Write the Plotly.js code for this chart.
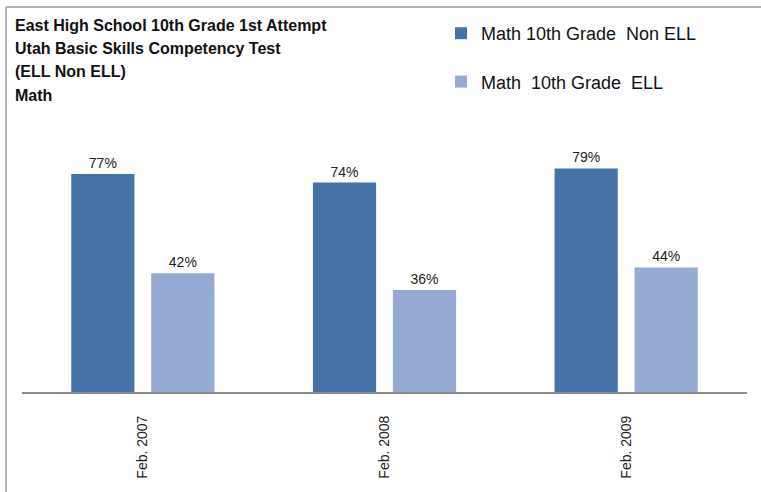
<!DOCTYPE html>
<html>
<head>
<meta charset="utf-8">
<script src="https://cdn.plot.ly/plotly-3.0.1.min.js"></script>
<style>
html,body{margin:0;padding:0;background:#fff;}
#chart{width:761px;height:492px;}
</style>
</head>
<body>
<div id="chart"></div>
<script>
const categories = ['Feb. 2007', 'Feb. 2008', 'Feb. 2009'];
const nonEllValues = [77, 74, 79];
const ellValues = [42, 36, 44];
const seriesNames = ['Math 10th Grade\u00A0 Non ELL', 'Math\u00A0 10th Grade\u00A0 ELL'];
const titleLines = [
  'East High School 10th Grade 1st Attempt',
  'Utah Basic Skills Competency Test',
  '(ELL Non ELL)',
  'Math'
];

const pct = v => v + '%';
const FONT = 'Liberation Sans, Arial, sans-serif';

const traces = [
  {
    type: 'bar', x: categories, y: nonEllValues, name: seriesNames[0],
    marker: {color: '#4573A7'},
    text: nonEllValues.map(pct), textposition: 'outside', cliponaxis: false,
    textfont: {family: FONT, size: 14, color: '#222'},
    legendgroup: 'a', hoverinfo: 'skip'
  },
  {
    type: 'bar', x: categories, y: ellValues, name: seriesNames[1],
    marker: {color: '#95AAD2'},
    text: ellValues.map(pct), textposition: 'outside', cliponaxis: false,
    textfont: {family: FONT, size: 14, color: '#222'},
    legendgroup: 'b', hoverinfo: 'skip'
  }
];

const L = 22, R = 14, T = 109, B = 100;
const W = 761 - L - R, H = 492 - T - B;
const px = x => (x - L) / W;
const py = y => 1 + (T - y) / H;

const titleY = [25, 48, 72, 96];
const annotations = titleLines.map((t, i) => ({
  text: t, xref: 'paper', yref: 'paper', x: px(13), y: py(titleY[i]),
  xanchor: 'left', yanchor: 'middle', showarrow: false,
  font: {family: FONT, size: 16, color: '#111', weight: 'bold'}
}));

const layout = {
  width: 761, height: 492,
  margin: {l: L, r: R, t: T, b: B, pad: 0},
  paper_bgcolor: '#fff', plot_bgcolor: '#fff',
  barmode: 'group', bargap: 0.338, bargroupgap: 0.21,
  showlegend: true,
  legend: {
    x: px(441), y: py(15), xanchor: 'left', yanchor: 'top',
    font: {family: FONT, size: 18, color: '#111'},
    tracegroupgap: 22, traceorder: 'grouped', bgcolor: 'rgba(0,0,0,0)'
  },
  xaxis: {
    showline: true, linecolor: '#8a8a8a', linewidth: 2,
    ticks: 'outside', ticklen: 8, tickcolor: 'rgba(0,0,0,0)',
    tickangle: -90, ticklabelstandoff: 8,
    tickfont: {family: FONT, size: 14, color: '#222'},
    showgrid: false, zeroline: false, fixedrange: true
  },
  yaxis: {
    range: [0, 100], visible: false, showgrid: false, zeroline: false, fixedrange: true
  },
  annotations: annotations,
  shapes: [
    {type: 'line', xref: 'paper', yref: 'paper', x0: px(6), x1: px(6), y0: py(7), y1: py(495),
     line: {color: '#9a9a9a', width: 1.5}},
    {type: 'line', xref: 'paper', yref: 'paper', x0: px(6), x1: px(765), y0: py(7), y1: py(7),
     line: {color: '#9a9a9a', width: 1.5}}
  ]
};

Plotly.newPlot('chart', traces, layout, {displayModeBar: false, staticPlot: true});
</script>
</body>
</html>
